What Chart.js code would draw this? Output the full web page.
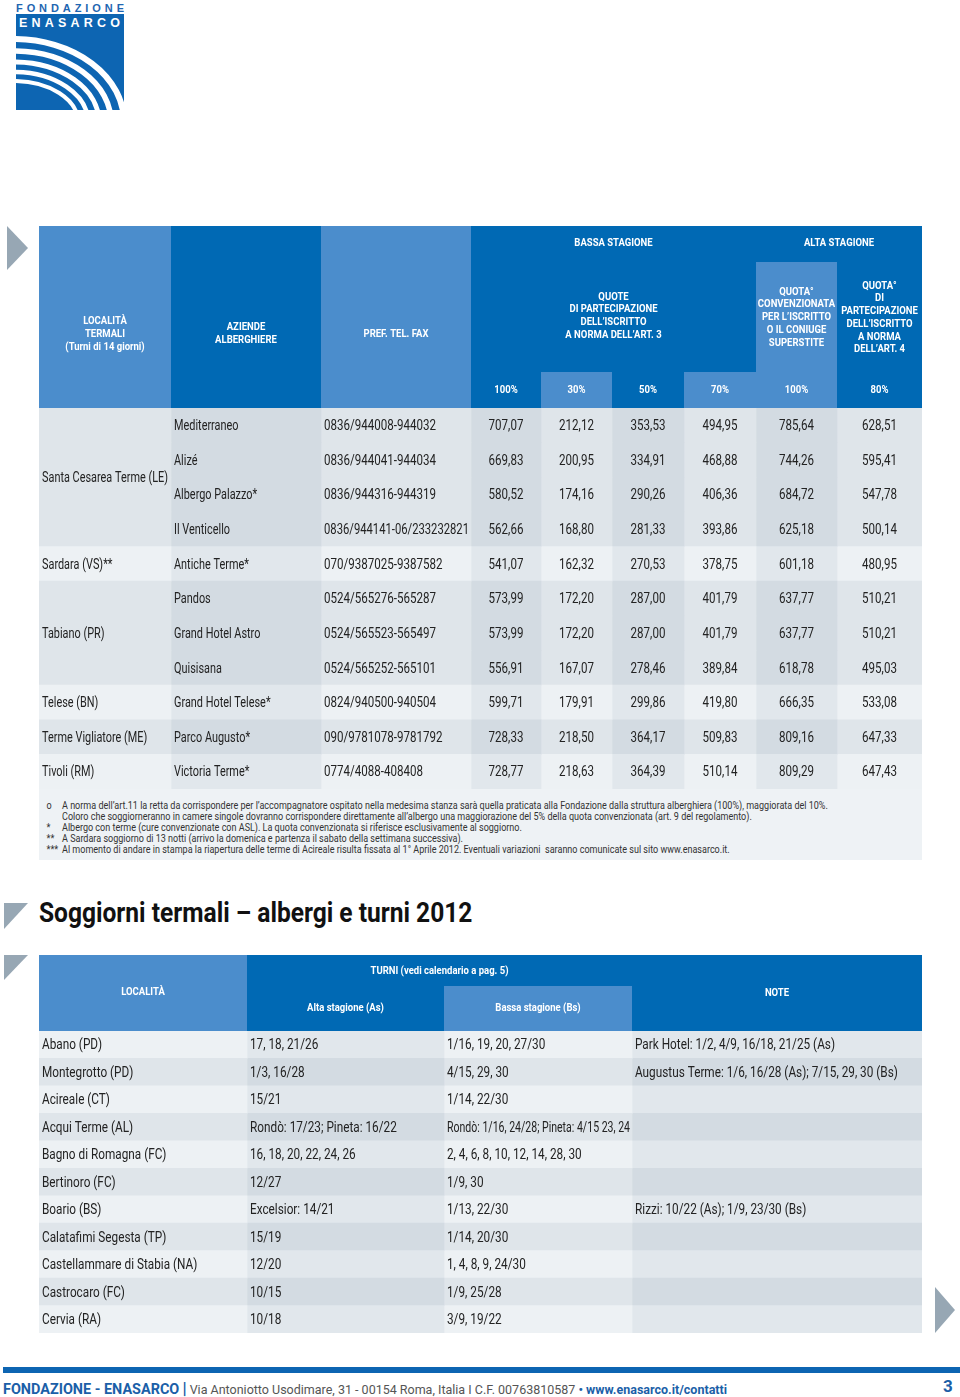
<!DOCTYPE html>
<html>
<head>
<meta charset="utf-8">
<script src="https://cdn.jsdelivr.net/npm/chart.js@4/dist/chart.umd.min.js"></script>
<style>
  body { margin: 0; width: 960px; height: 1397px; position: relative; background: #fff; overflow: hidden;
         font-family: Roboto, "DejaVu Sans Condensed", sans-serif; }
  .abs { position: absolute; }
  .stretto { display: inline-block; transform-origin: 0 50%; white-space: nowrap; }
  #note { left: 39px; top: 789px; width: 883px; height: 71px; background: #eef2f5; color: #333; font-size: 10.5px; }
  #note div { position: absolute; left: 23px; white-space: nowrap; line-height: 11px; transform-origin: 0 50%; }
  #note span { position: absolute; left: -18px; }
  #titolo { left: 39px; top: 896px; font-size: 28px; font-weight: bold; color: #111; }
  #piede { left: 3px; top: 1378px; font-size: 13px; color: #555; }
  #piede b { color: #1b5fa8; font-size: 15px; }
  #pag { left: 943px; top: 1376px; color: #1b5fa8; font-weight: bold; font-size: 17px; }
</style>
</head>
<body>

<svg class="abs" style="left:0;top:0" width="960" height="1397">
  <text x="16" y="11.5" fill="#1f66b1" font-size="11" font-weight="bold" textLength="108" lengthAdjust="spacing"
        font-family="Liberation Sans, Arial, sans-serif">FONDAZIONE</text>
  <rect x="16" y="14" width="108" height="96" fill="#0d65b2"/>
  <text x="19" y="27" fill="#fff" font-size="12.5" font-weight="bold" textLength="101" lengthAdjust="spacing"
        font-family="Liberation Sans, Arial, sans-serif">ENASARCO</text>
  <clipPath id="cl"><rect x="16" y="31" width="108" height="79"/></clipPath>
  <g clip-path="url(#cl)" fill="none" stroke="#fff">
    <ellipse cx="14" cy="122" rx="110" ry="83" stroke-width="6"/>
    <ellipse cx="14" cy="122" rx="97" ry="71" stroke-width="5.5"/>
    <ellipse cx="14" cy="122" rx="85" ry="60" stroke-width="5"/>
    <ellipse cx="14" cy="122" rx="74" ry="50" stroke-width="4.5"/>
    <ellipse cx="14" cy="122" rx="64" ry="41" stroke-width="4"/>
  </g>
  <polygon points="7,226 28,248 7,270" fill="#97a7b4"/>
  <polygon points="4,903 28,903 4,929" fill="#97a7b4"/>
  <polygon points="4,955 28,955 4,980" fill="#97a7b4"/>
  <polygon points="935,1287 955,1310 935,1333" fill="#97a7b4"/>
  <rect x="3" y="1367" width="957" height="6" fill="#0d65b2"/>
</svg>

<canvas id="tab1" class="abs" style="left:39px;top:226px" width="883" height="563"></canvas>

<div id="note" class="abs">
  <div style="top:11px"><span>o</span>A norma dell’art.11 la retta da corrispondere per l’accompagnatore ospitato nella medesima stanza sarà quella praticata alla Fondazione dalla struttura alberghiera (100%), maggiorata del 10%.</div>
  <div style="top:22px">Coloro che soggiorneranno in camere singole dovranno corrispondere direttamente all’albergo una maggiorazione del 5% della quota convenzionata (art. 9 del regolamento).</div>
  <div style="top:33px"><span>*</span>Albergo con terme (cure convenzionate con ASL). La quota convenzionata si riferisce esclusivamente al soggiorno.</div>
  <div style="top:44px"><span>**</span>A Sardara soggiorno di 13 notti (arrivo la domenica e partenza il sabato della settimana successiva).</div>
  <div style="top:55px"><span>***</span>Al momento di andare in stampa la riapertura delle terme di Acireale risulta fissata al 1° Aprile 2012. Eventuali variazioni&nbsp; saranno comunicate sul sito www.enasarco.it.</div>
</div>

<div id="titolo" class="abs stretto">Soggiorni termali – albergi e turni 2012</div>

<canvas id="tab2" class="abs" style="left:39px;top:955px" width="883" height="378"></canvas>

<div id="piede" class="abs stretto"><b>FONDAZIONE - ENASARCO</b> <b style="font-size:17px">|</b> Via Antoniotto Usodimare, 31 - 00154 Roma, Italia I C.F. 00763810587 <b style="font-size:13px">• www.enasarco.it/contatti</b></div>
<div id="pag" class="abs">3</div>

<script>
// --- dati tabella 1 (quote 2012) ---
const localita = ['Santa Cesarea Terme (LE)', 'Sardara (VS)**', 'Tabiano (PR)', 'Telese (BN)', 'Terme Vigliatore (ME)', 'Tivoli (RM)'];
const localitaRighe = [4, 1, 3, 1, 1, 1];
const alberghi = ['Mediterraneo', 'Alizé', 'Albergo Palazzo*', 'Il Venticello', 'Antiche Terme*', 'Pandos',
  'Grand Hotel Astro', 'Quisisana', 'Grand Hotel Telese*', 'Parco Augusto*', 'Victoria Terme*'];
const telefoni = ['0836/944008-944032', '0836/944041-944034', '0836/944316-944319', '0836/944141-06/233232821',
  '070/9387025-9387582', '0524/565276-565287', '0524/565523-565497', '0524/565252-565101',
  '0824/940500-940504', '090/9781078-9781792', '0774/4088-408408'];
const quota100 = [707.07, 669.83, 580.52, 562.66, 541.07, 573.99, 573.99, 556.91, 599.71, 728.33, 728.77];
const quota30 = [212.12, 200.95, 174.16, 168.80, 162.32, 172.20, 172.20, 167.07, 179.91, 218.50, 218.63];
const quota50 = [353.53, 334.91, 290.26, 281.33, 270.53, 287.00, 287.00, 278.46, 299.86, 364.17, 364.39];
const quota70 = [494.95, 468.88, 406.36, 393.86, 378.75, 401.79, 401.79, 389.84, 419.80, 509.83, 510.14];
const alta100 = [785.64, 744.26, 684.72, 625.18, 601.18, 637.77, 637.77, 618.78, 666.35, 809.16, 809.29];
const alta80 = [628.51, 595.41, 547.78, 500.14, 480.95, 510.21, 510.21, 495.03, 533.08, 647.33, 647.43];
const percentuali = ['100%', '30%', '50%', '70%', '100%', '80%'];

// --- dati tabella 2 (turni) ---
const localita2 = ['Abano (PD)', 'Montegrotto (PD)', 'Acireale (CT)', 'Acqui Terme (AL)', 'Bagno di Romagna (FC)',
  'Bertinoro (FC)', 'Boario (BS)', 'Calatafimi Segesta (TP)', 'Castellammare di Stabia (NA)', 'Castrocaro (FC)', 'Cervia (RA)'];
const turniAlta = ['17, 18, 21/26', '1/3, 16/28', '15/21', 'Rondò: 17/23; Pineta: 16/22', '16, 18, 20, 22, 24, 26',
  '12/27', 'Excelsior: 14/21', '15/19', '12/20', '10/15', '10/18'];
const turniBassa = ['1/16, 19, 20, 27/30', '4/15, 29, 30', '1/14, 22/30', 'Rondò: 1/16, 24/28; Pineta: 4/15 23, 24',
  '2, 4, 6, 8, 10, 12, 14, 28, 30', '1/9, 30', '1/13, 22/30', '1/14, 20/30', '1, 4, 8, 9, 24/30', '1/9, 25/28', '3/9, 19/22'];
const noteTurni = ['Park Hotel: 1/2, 4/9, 16/18, 21/25 (As)', 'Augustus Terme: 1/6, 16/28 (As); 7/15, 29, 30 (Bs)',
  '', '', '', '', 'Rizzi: 10/22 (As); 1/9, 23/30 (Bs)', '', '', '', ''];

const FONT = 'Roboto, "DejaVu Sans Condensed", sans-serif';
const BODY = '15px ' + FONT;
const HEAD = 'bold 11px ' + FONT;
const BLU = '#0069b4';
const AZZ = '#4b8dcc';
const fmt = v => v.toFixed(2).replace('.', ',');

// grigi: [riga chiara/scura][colonna chiara/scura]
const GRIGI = [['#edf1f4', '#e1e7ec'], ['#dfe5ea', '#d3dbe2']];

// il carattere originale è un condensato: si comprime in orizzontale
const misura = document.createElement('canvas').getContext('2d');
function fattore(font, campione, larghezza) {
  misura.font = font;
  return larghezza / misura.measureText(campione).width;
}
const K_TESTO = fattore(BODY, 'Santa Cesarea Terme (LE)', 126);
const K_CIFRE = fattore(BODY, '0836/944008-944032', 112);
const K_TAB2 = fattore(BODY, 'Park Hotel: 1/2, 4/9, 16/18, 21/25 (As)', 200);
const K_HEAD = fattore(HEAD, 'PREF. TEL. FAX', 65);

function scrivi(ctx, t, x, y, align, k, maxW) {
  ctx.save();
  ctx.translate(x, y);
  ctx.scale(k, 1);
  ctx.textAlign = align;
  if (maxW) ctx.fillText(t, 0, 0, maxW / k); else ctx.fillText(t, 0, 0);
  ctx.restore();
}

function righe(ctx, testi, x, y0, lh) {
  ctx.font = HEAD;
  testi.forEach((t, k) => scrivi(ctx, t, x, y0 + k * lh, 'center', K_HEAD));
}

// disegna intestazione e testi delle celle sopra le barre
const tabellaPlugin = {
  id: 'tabella',
  beforeDatasetsDraw(chart, args, opts) {
    opts.intestazione(chart.ctx, chart.scales.x);
  },
  afterDatasetsDraw(chart, args, opts) {
    const ctx = chart.ctx;
    ctx.save();
    ctx.fillStyle = '#222';
    ctx.textBaseline = 'middle';
    ctx.font = BODY;
    opts.colonne.forEach((col, c) => {
      const meta = chart.getDatasetMeta(c);
      meta.data.forEach((bar, i) => {
        const t = col.testo(i);
        if (!t) return;
        const x0 = Math.min(bar.base, bar.x), x1 = Math.max(bar.base, bar.x);
        if (col.align === 'center') scrivi(ctx, t, (x0 + x1) / 2, bar.y + 1, 'center', col.k);
        else scrivi(ctx, t, x0 + 3, bar.y + 1, 'left', col.k, x1 - x0 - 5);
      });
    });
    if (opts.extra) opts.extra(chart);
    ctx.restore();
  }
};

function creaTabella(id, etichette, larghezze, colonne, tonoRiga, tonoCol, alto, intestazione, extra) {
  const totale = larghezze.reduce((a, b) => a + b, 0);
  return new Chart(document.getElementById(id), {
    type: 'bar',
    data: {
      labels: etichette,
      datasets: larghezze.map((w, c) => ({
        data: etichette.map(() => w),
        backgroundColor: ctx => GRIGI[tonoRiga(ctx.dataIndex)][tonoCol[c]],
        borderWidth: 0,
        barPercentage: 1,
        categoryPercentage: 1,
        stack: 'celle'
      }))
    },
    options: {
      indexAxis: 'y',
      responsive: false,
      animation: false,
      devicePixelRatio: 1,
      events: [],
      layout: { padding: { top: alto } },
      scales: {
        x: { stacked: true, min: 0, max: totale, display: false },
        y: { stacked: true, display: false }
      },
      plugins: {
        legend: { display: false },
        tooltip: { enabled: false },
        tabella: { colonne, intestazione, extra }
      }
    },
    plugins: [tabellaPlugin]
  });
}

function bordi(x, larg) {
  const e = [0];
  larg.forEach(w => e.push(e[e.length - 1] + w));
  return e.map(v => x.getPixelForValue(v));
}

// ---------- tabella 1 ----------
const larg1 = [132, 150, 150, 70, 71, 72, 72, 81, 85];
const gruppo1 = localitaRighe.flatMap((n, g) => Array(n).fill(g));
const valori1 = [quota100, quota30, quota50, quota70, alta100, alta80];

const colonne1 = [
  { testo: () => '', align: 'left', k: K_TESTO },
  { testo: i => alberghi[i], align: 'left', k: K_TESTO },
  { testo: i => telefoni[i], align: 'left', k: K_CIFRE }
].concat(valori1.map(arr => ({ testo: i => fmt(arr[i]), align: 'center', k: K_CIFRE })));

function intestazione1(ctx, x) {
  const e = bordi(x, larg1);
  const cx = k => (e[k] + e[k + 1]) / 2;
  ctx.save();
  const rect = (a, b, y0, y1, col) => { ctx.fillStyle = col; ctx.fillRect(e[a], y0, e[b] - e[a], y1 - y0); };
  rect(0, 1, 0, 182, AZZ);
  rect(1, 2, 0, 182, BLU);
  rect(2, 3, 0, 182, AZZ);
  rect(3, 9, 0, 182, BLU);
  rect(7, 8, 36, 182, AZZ);
  rect(4, 5, 146, 182, AZZ);
  rect(6, 7, 146, 182, AZZ);
  ctx.fillStyle = '#fff';
  ctx.textBaseline = 'middle';
  righe(ctx, ['BASSA STAGIONE'], (e[3] + e[7]) / 2, 17, 0);
  righe(ctx, ['ALTA STAGIONE'], (e[7] + e[9]) / 2, 17, 0);
  righe(ctx, ['LOCALITÀ', 'TERMALI', '(Turni di 14 giorni)'], cx(0), 95, 13);
  righe(ctx, ['AZIENDE', 'ALBERGHIERE'], cx(1), 101, 13);
  righe(ctx, ['PREF. TEL. FAX'], cx(2), 108, 0);
  righe(ctx, ['QUOTE', 'DI PARTECIPAZIONE', 'DELL’ISCRITTO', 'A NORMA DELL’ART. 3'], (e[3] + e[7]) / 2, 71, 12.7);
  righe(ctx, ['QUOTA°', 'CONVENZIONATA', 'PER L’ISCRITTO', 'O IL CONIUGE', 'SUPERSTITE'], cx(7), 66, 12.7);
  righe(ctx, ['QUOTA°', 'DI', 'PARTECIPAZIONE', 'DELL’ISCRITTO', 'A NORMA', 'DELL’ART. 4'], cx(8), 60, 12.7);
  percentuali.forEach((p, k) => righe(ctx, [p], cx(3 + k), 164, 0));
  ctx.restore();
}

function localitaRaggruppate(chart) {
  const ctx = chart.ctx;
  const y = chart.scales.y;
  const x0 = chart.scales.x.getPixelForValue(0);
  ctx.font = BODY;
  let r = 0;
  localita.forEach((nome, g) => {
    const first = r, last = r + localitaRighe[g] - 1;
    scrivi(ctx, nome, x0 + 3, (y.getPixelForValue(first) + y.getPixelForValue(last)) / 2 + 1, 'left', K_TESTO);
    r += localitaRighe[g];
  });
}

creaTabella('tab1', alberghi, larg1, colonne1, i => (gruppo1[i] % 2 === 0 ? 1 : 0),
  [0, 1, 0, 1, 0, 1, 0, 1, 0], 182, intestazione1, localitaRaggruppate);

// ---------- tabella 2 ----------
const larg2 = [208, 197, 188, 290];
const colonne2 = [
  { testo: i => localita2[i], align: 'left', k: K_TAB2 },
  { testo: i => turniAlta[i], align: 'left', k: K_TAB2 },
  { testo: i => turniBassa[i], align: 'left', k: K_TAB2 },
  { testo: i => noteTurni[i], align: 'left', k: K_TAB2 }
];

function intestazione2(ctx, x) {
  const e = bordi(x, larg2);
  const cx = k => (e[k] + e[k + 1]) / 2;
  ctx.save();
  const rect = (a, b, y0, y1, col) => { ctx.fillStyle = col; ctx.fillRect(e[a], y0, e[b] - e[a], y1 - y0); };
  rect(0, 1, 0, 76, AZZ);
  rect(1, 4, 0, 76, BLU);
  rect(2, 3, 31, 76, AZZ);
  ctx.fillStyle = '#fff';
  ctx.textBaseline = 'middle';
  righe(ctx, ['LOCALITÀ'], cx(0), 37, 0);
  righe(ctx, ['TURNI (vedi calendario a pag. 5)'], (e[1] + e[3]) / 2, 16, 0);
  righe(ctx, ['Alta stagione (As)'], cx(1), 53, 0);
  righe(ctx, ['Bassa stagione (Bs)'], cx(2), 53, 0);
  righe(ctx, ['NOTE'], cx(3), 38, 0);
  ctx.restore();
}

creaTabella('tab2', localita2, larg2, colonne2, i => i % 2,
  [0, 1, 0, 1], 76, intestazione2, null);

// testi HTML compressi alla larghezza dell'originale
function comprimi(el, larghezza) {
  el.style.transform = 'scaleX(' + (larghezza / el.offsetWidth) + ')';
}
comprimi(document.getElementById('titolo'), 433);
comprimi(document.getElementById('piede'), 724);
const righeNote = document.querySelectorAll('#note div');
const kNote = 766 / righeNote[0].scrollWidth;
righeNote.forEach(d => { d.style.transform = 'scaleX(' + kNote + ')'; });
</script>
</body>
</html>
